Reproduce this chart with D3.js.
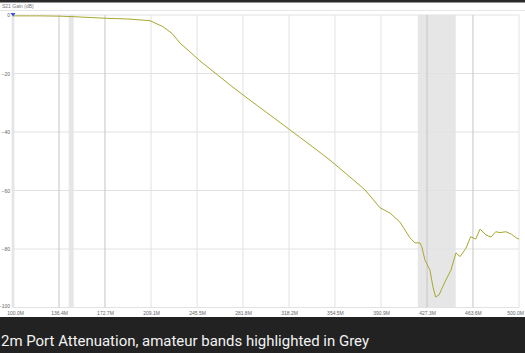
<!DOCTYPE html>
<html>
<head>
<meta charset="utf-8">
<title>2m Port Attenuation</title>
<script src="https://cdn.jsdelivr.net/npm/d3@7"></script>
<style>
  body { margin: 0; background: #fff; }
  .tick text { font-family: "Liberation Sans", sans-serif; font-size: 5px; fill: #666; }
  .caption { font-family: Roboto, sans-serif; font-size: 15px; fill: #f2f2f2; }
</style>
</head>
<body>
<div id="chart"></div>
<script>
// frequency in MHz, S21 gain in dB
var freqs = [100, 121.3, 137.2, 149, 172.7, 192.5, 208.3, 218.6, 225.7, 229.6, 232, 239.9, 247.8,
  259.7, 271.5, 287.3, 303.2, 319, 334.8, 350.6, 366.4, 378.3, 390.1, 398, 405.9, 413.8, 417.8,
  421.7, 423.1, 425.7, 429.6, 432, 434.1, 436.8, 441.5, 446.2, 450.2, 453.4, 458.1, 461.8, 465.8,
  469.2, 473.9, 477.9, 481.6, 485, 489.7, 494.2, 498.2, 500];
var gain = [-0.3, -0.3, -0.4, -0.6, -1.1, -1.4, -1.95, -4.0, -6.3, -8.3, -9.6, -12.6, -15.7,
  -19.8, -23.9, -29.1, -34.2, -39.3, -44.4, -49.6, -55.4, -59.8, -65.9, -67.7, -70.8, -76.2, -77.9,
  -77.9, -79.2, -83.8, -87.2, -93.0, -96.4, -95.7, -91.2, -87.2, -81.3, -82.6, -79.7, -75.8, -76.6,
  -73.2, -75.2, -75.9, -74.1, -74.4, -74.1, -75.0, -76.3, -76.6];
var xTicks = [100, 136.4, 172.7, 209.1, 245.5, 281.8, 318.2, 354.5, 390.9, 427.3, 463.6, 500];
var xLabels = ["100.0M", "136.4M", "172.7M", "209.1M", "245.5M", "281.8M", "318.2M", "354.5M",
  "390.9M", "427.3M", "463.6M", "500.0M"];
var yTicks = [0, -20, -40, -60, -80, -100];
var bands = [[144, 148], [420, 450]];
var markerTicks = [1, 2, 9, 10];

var width = 525, height = 353;
var svg = d3.select("#chart").append("svg")
  .attr("width", width).attr("height", height);

var x = d3.scaleLinear().domain([100, 500]).range([13, 519]);
var y = d3.scaleLinear().domain([0, -100]).range([15, 307.5]);

// top strip + header
svg.append("rect").attr("x", 0).attr("y", 0).attr("width", width).attr("height", 2.5).attr("fill", "#2a2a2a");
svg.append("text").attr("x", 2).attr("y", 7.5)
  .style("font-family", "Liberation Sans, sans-serif").style("font-size", "5px").style("fill", "#777")
  .text("S21 Gain (dB)");
svg.append("line").attr("x1", 0).attr("x2", width).attr("y1", 10.5).attr("y2", 10.5)
  .attr("stroke", "#e6e6e6");

// amateur bands
svg.selectAll(".band").data(bands).enter().append("rect")
  .attr("class", "band")
  .attr("x", function(d) { return x(d[0]); })
  .attr("width", function(d) { return x(d[1]) - x(d[0]); })
  .attr("y", y(0)).attr("height", y(-100) - y(0))
  .attr("fill", "#e6e6e6");
svg.append("rect").attr("x", 11.5).attr("width", 3).attr("y", y(0)).attr("height", y(-100) - y(0))
  .attr("fill", "#e9e9e9");

// grid
svg.append("g").selectAll("line").data(yTicks).enter().append("line")
  .attr("x1", x(100)).attr("x2", x(500))
  .attr("y1", function(d) { return y(d); }).attr("y2", function(d) { return y(d); })
  .attr("stroke", "#e2e2e2");
svg.append("g").selectAll("line").data(xTicks).enter().append("line")
  .attr("x1", function(d) { return x(d); }).attr("x2", function(d) { return x(d); })
  .attr("y1", y(0)).attr("y2", y(-100))
  .attr("stroke", function(d, i) { return markerTicks.indexOf(i) >= 0 ? "#c6c6c6" : "#e2e2e2"; });

// axes (labels only)
var xAxis = svg.append("g").attr("transform", "translate(0," + (y(-100) + 1.5) + ")")
  .call(d3.axisBottom(x).tickValues(xTicks).tickSize(0).tickPadding(2)
    .tickFormat(function(d, i) { return xLabels[i]; }));
var yAxis = svg.append("g").attr("transform", "translate(" + 11 + ",0)")
  .call(d3.axisLeft(y).tickValues(yTicks).tickSize(0).tickPadding(1));
xAxis.select(".domain").remove();
yAxis.select(".domain").remove();
xAxis.selectAll(".tick text").filter(function(d) { return d === 500; }).attr("dx", -4);
xAxis.selectAll(".tick text").filter(function(d) { return d === 100; }).attr("dx", 2);
yAxis.selectAll(".tick text").filter(function(d) { return d === -100; }).attr("dy", "0");

// trace
var line = d3.line().x(function(d, i) { return x(freqs[i]); }).y(function(d) { return y(d); });
svg.append("path").datum(gain)
  .attr("d", line)
  .attr("fill", "none")
  .attr("stroke", "#a8a830")
  .attr("stroke-width", 1);

// marker
svg.append("path")
  .attr("d", "M" + (x(100) - 2.5) + "," + (y(0) - 2) + "h5l-2.5,3.5z")
  .attr("fill", "#3d4fe0");

// caption bar
svg.append("rect").attr("x", 0).attr("y", 317).attr("width", width).attr("height", height - 317)
  .attr("fill", "#222");
svg.append("text").attr("class", "caption").attr("x", 1).attr("y", 346)
  .attr("textLength", 368).attr("lengthAdjust", "spacingAndGlyphs")
  .text("2m Port Attenuation, amateur bands highlighted in Grey");
</script>
</body>
</html>
